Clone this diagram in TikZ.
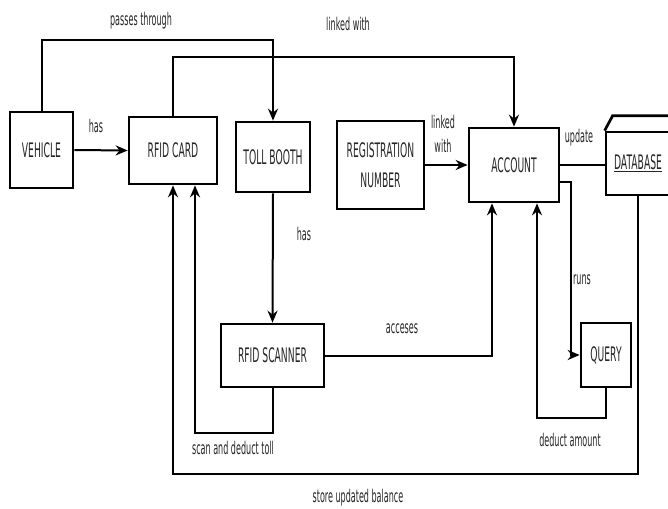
\documentclass[tikz,border=0pt]{standalone}
\usepackage{fontspec}
\setmainfont{DejaVu Sans}[FakeStretch=0.46]
\usetikzlibrary{arrows.meta}
\begin{document}
\begin{tikzpicture}[x=1pt, y=-1pt,
  box/.style={draw, line width=2.7pt, align=center, inner sep=0pt, text=black!85, font=\fontsize{20}{30}\selectfont},
  lbl/.style={align=center, text=black!85, font=\fontsize{17.5}{24}\selectfont},
  arr/.style={line width=2pt, -{Stealth[length=12pt,width=10pt]}},
  link/.style={line width=2pt}]
\useasboundingbox (0,0) rectangle (668,508);
\clip (0,0) rectangle (668,508);
% boxes
\node[box, minimum width=63pt, minimum height=76pt] (vehicle) at (41.5,150) {VEHICLE};
\node[box, minimum width=88pt, minimum height=67pt] (card) at (173,150.5) {RFID CARD};
\node[box, minimum width=74pt, minimum height=70pt] (booth) at (273,157) {TOLL BOOTH};
\node[box, minimum width=87pt, minimum height=88pt] (regno) at (380.5,165) {REGISTRATION\\NUMBER};
\node[box, minimum width=90pt, minimum height=74pt] (account) at (514,165) {ACCOUNT};
\node[box, minimum width=64pt, minimum height=63pt] (database) at (638,163.5) {\underline{DATABASE}};
\draw[line width=2.7pt] (database.north west) -- ++(8,-15) -- ++(80,0);
\node[box, minimum width=103pt, minimum height=63pt] (scanner) at (272.5,355.5) {RFID SCANNER};
\node[box, minimum width=50pt, minimum height=64pt] (query) at (606,355) {QUERY};
% labels
\node[lbl] (has1) at (96,126) {has};
\node[lbl] (passes) at (141,21) {passes through};
\node[lbl] (linked1) at (348,24) {linked with};
\node[lbl] (linked2) at (443,134) {linked\\with};
\node[lbl] (update) at (579,138) {update};
\node[lbl] (has2) at (304,234) {has};
\node[lbl] (acc) at (402,329) {acceses};
\node[lbl] (runs) at (582,280) {runs};
\node[lbl] (scan) at (233,448) {scan and deduct toll};
\node[lbl] (deduct) at (570,440) {deduct amount};
\node[lbl] (store) at (358,498) {store updated balance};
% connectors
\draw[arr] (vehicle.east) -- (card.west);
\draw[arr] (vehicle.north) -- ++(0,-71) -| (booth.north);
\draw[arr] (card.north) -- ++(0,-59) -| (account.north);
\draw[arr] (regno.east) -- (account.west);
\draw[link] (account.east) -- (account.east -| database.west);
\draw[arr] ([yshift=-17pt]account.east) -- ++(11,0) |- (query.west);
\draw[arr] (booth.south) -- (scanner.north);
\draw[arr] (scanner.east) -| ([xshift=-22pt]account.south);
\draw[arr] (scanner.south) -- ++(0,45) -| ([xshift=22pt]card.south);
\draw[arr] (query.south) -- ++(0,30) -| ([xshift=23pt]account.south);
\draw[arr] (database.south) -- ++(0,278) -| (card.south);
\end{tikzpicture}
\end{document}
